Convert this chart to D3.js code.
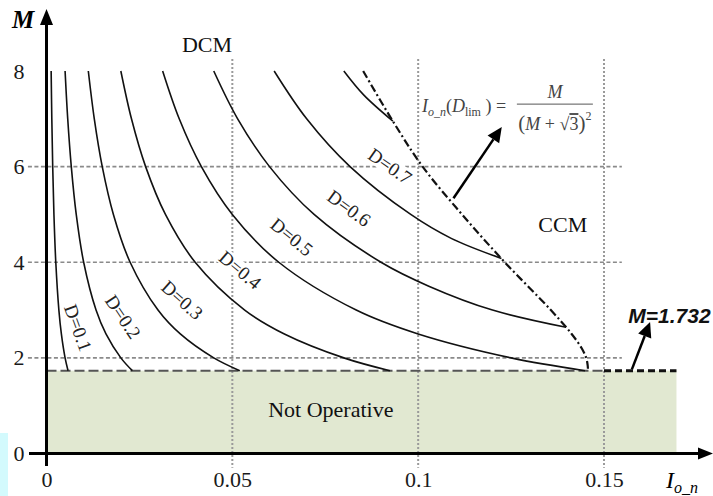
<!DOCTYPE html>
<html>
<head>
<meta charset="utf-8">
<script src="https://cdn.jsdelivr.net/npm/d3@7/dist/d3.min.js"></script>
<style>
  html, body { margin: 0; padding: 0; background: #fff; }
  svg { display: block; }
</style>
</head>
<body>
<script>
// Operating regions of the converter: output gain M versus normalised output current I_o_n.

// Axis ticks
const xTicks = [0, 0.05, 0.1, 0.15];
const yTicks = [0, 2, 4, 6, 8];
const gridX = [0.05, 0.1, 0.15];
const gridY = [2, 4, 6];

// Duty-cycle curves in DCM, points are [I_o_n, M]
const dutyValues = ["D=0.1", "D=0.2", "D=0.3", "D=0.4", "D=0.5", "D=0.6", "D=0.7"];
const curveD1 = [[0.00125, 8], [0.00143, 7], [0.00167, 6], [0.0020, 5], [0.0025, 4], [0.00333, 3], [0.0040, 2.5], [0.0050, 2], [0.0058, 1.732]];
const curveD2 = [[0.0050, 8], [0.00571, 7], [0.00667, 6], [0.0080, 5], [0.0100, 4], [0.01333, 3], [0.0160, 2.5], [0.0200, 2], [0.0231, 1.732]];
const curveD3 = [[0.01125, 8], [0.01286, 7], [0.0150, 6], [0.0180, 5], [0.0225, 4], [0.0300, 3], [0.0360, 2.5], [0.0450, 2], [0.0520, 1.732]];
const curveD4 = [[0.0200, 8], [0.02286, 7], [0.02667, 6], [0.0320, 5], [0.0400, 4], [0.05333, 3], [0.0640, 2.5], [0.0800, 2], [0.0924, 1.732]];
const curveD5 = [[0.03125, 8], [0.03571, 7], [0.04167, 6], [0.0500, 5], [0.0625, 4], [0.08333, 3], [0.1000, 2.5], [0.1250, 2], [0.1449, 1.732]];
const curveD6 = [[0.0450, 8], [0.05143, 7], [0.0600, 6], [0.0720, 5], [0.0900, 4], [0.10286, 3.5], [0.1200, 3], [0.1398, 2.64]];
const curveD7 = [[0.06125, 8], [0.0700, 7], [0.08167, 6], [0.0980, 5], [0.10889, 4.5], [0.1224, 4.08]];
const curveD8 = [[0.0800, 8], [0.08533, 7.5], [0.0932, 6.95]];

// DCM/CCM boundary I_o_n(D_lim) = M/(M+sqrt3)^2
const limitCurve = [[0.0852, 8.0], [0.0928, 7.0], [0.1012, 6.0], [0.1118, 5.0], [0.1233, 4.0], [0.1357, 3.0], [0.1413, 2.5], [0.1440, 2.2], [0.1452, 2.0], [0.1456, 1.85], [0.1457, 1.732]];

// Minimum gain and the non-operative band below it
const mMin = 1.732;
const bandEnd = 0.1695;

// Label anchors [I_o_n, M, angle]
const dutyLabelPos = [[0.0085, 2.63, 70], [0.0206, 2.86, 56], [0.0365, 3.21, 42], [0.0521, 3.84, 40], [0.0660, 4.53, 39], [0.0814, 5.13, 36], [0.0924, 6.01, 35]];

const W = 713, H = 496;
const x = d3.scaleLinear().domain([0, 0.15]).range([46.5, 604]);
const y = d3.scaleLinear().domain([0, 8]).range([453.5, 71]);

const serif = "'Liberation Serif', 'Times New Roman', serif";

const svg = d3.select("body").append("svg")
  .attr("width", W).attr("height", H)
  .attr("font-family", serif);

// small cyan strip at the lower-left edge
svg.append("rect").attr("x", 0).attr("y", 433).attr("width", 8).attr("height", H - 433)
  .attr("fill", "#d3fafd");

// Not-operative band
svg.append("rect")
  .attr("x", x(0)).attr("y", y(mMin))
  .attr("width", x(bandEnd) - x(0)).attr("height", y(0) - y(mMin))
  .attr("fill", "#e1e8d1");

// Grid
svg.append("g").selectAll("line").data(gridY).join("line")
  .attr("x1", x(-0.005)).attr("x2", x(0.1548))
  .attr("y1", d => y(d)).attr("y2", d => y(d))
  .attr("stroke", "#8a8a8a").attr("stroke-width", 1.6).attr("stroke-dasharray", "4,2.5");

svg.append("g").selectAll("line").data(gridX).join("line")
  .attr("x1", d => x(d)).attr("x2", d => x(d))
  .attr("y1", y(8.25)).attr("y2", y(-0.3))
  .attr("stroke", "#9a9a9a").attr("stroke-width", 2).attr("stroke-dasharray", "2,2");

// M = 1.732 boundary
svg.append("line")
  .attr("x1", x(0)).attr("x2", x(0.15)).attr("y1", y(mMin)).attr("y2", y(mMin))
  .attr("stroke", "#555").attr("stroke-width", 2).attr("stroke-dasharray", "10,4");
svg.append("line")
  .attr("x1", x(0.15)).attr("x2", x(bandEnd)).attr("y1", y(mMin)).attr("y2", y(mMin))
  .attr("stroke", "#111").attr("stroke-width", 3).attr("stroke-dasharray", "7,4");

// Duty-cycle labels on a white ground
dutyValues.forEach((txt, i) => {
  const [lx, ly, ang] = dutyLabelPos[i];
  const g = svg.append("g").attr("transform", `translate(${x(lx)},${y(ly)}) rotate(${ang})`);
  const t = g.append("text")
    .attr("text-anchor", "middle").attr("dominant-baseline", "central")
    .attr("font-size", 19).attr("fill", "#222").text(txt);
  const bb = t.node().getBBox();
  g.insert("rect", "text")
    .attr("x", bb.x - 1).attr("y", bb.y + 2).attr("width", bb.width + 2).attr("height", bb.height - 4)
    .attr("fill", "#fff");
});

// Curves
const line = d3.line().x(d => x(d[0])).y(d => y(d[1])).curve(d3.curveCatmullRom.alpha(0.5));
[curveD1, curveD2, curveD3, curveD4, curveD5, curveD6, curveD7, curveD8].forEach(c => {
  svg.append("path").attr("d", line(c))
    .attr("fill", "none").attr("stroke", "#111").attr("stroke-width", 1.6);
});

svg.append("path").attr("d", line(limitCurve))
  .attr("fill", "none").attr("stroke", "#111").attr("stroke-width", 2.2)
  .attr("stroke-dasharray", "8,3,2,3");

// Axes
const xAxis = d3.axisBottom(x).tickValues(xTicks).tickSize(0).tickPadding(18)
  .tickFormat(d => d === 0 ? "0" : String(d));
const gx = svg.append("g").attr("transform", `translate(0,${y(0)})`).call(xAxis);
gx.select(".domain").remove();
gx.selectAll("text").attr("font-family", serif).attr("font-size", 22).attr("fill", "#1a1a1a");

const yAxis = d3.axisLeft(y).tickValues(yTicks).tickSize(0).tickPadding(22);
const gy = svg.append("g").attr("transform", `translate(${x(0)},0)`).call(yAxis);
gy.select(".domain").remove();
gy.selectAll("text").attr("font-family", serif).attr("font-size", 22).attr("fill", "#1a1a1a");

// axis lines with arrow heads
svg.append("line").attr("x1", 29).attr("x2", W - 12).attr("y1", y(0)).attr("y2", y(0))
  .attr("stroke", "#000").attr("stroke-width", 3);
svg.append("path").attr("d", `M${W},${y(0)} L${W - 15},${y(0) - 6} L${W - 15},${y(0) + 6} Z`).attr("fill", "#000");
svg.append("line").attr("x1", x(0)).attr("x2", x(0)).attr("y1", 466).attr("y2", 22)
  .attr("stroke", "#000").attr("stroke-width", 3);
svg.append("path").attr("d", `M${x(0)},9 L${x(0) - 6.5},25 L${x(0) + 6.5},25 Z`).attr("fill", "#000");

// axis titles
svg.append("text").attr("x", 23).attr("y", 28).attr("text-anchor", "middle")
  .attr("font-size", 25).attr("font-style", "italic").attr("font-weight", "bold").text("M");
const xl = svg.append("text").attr("x", 666).attr("y", 488).attr("font-style", "italic").attr("font-size", 24);
xl.append("tspan").text("I");
xl.append("tspan").attr("dy", 5).attr("font-size", 16).text("o_n");

// Region labels
svg.append("text").attr("x", x(0.0432)).attr("y", y(8.40)).attr("text-anchor", "middle")
  .attr("font-size", 22).attr("fill", "#111").text("DCM");
svg.append("text").attr("x", x(0.1389)).attr("y", y(4.63)).attr("text-anchor", "middle")
  .attr("font-size", 22).attr("fill", "#111").text("CCM");
svg.append("text").attr("x", x(0.0765)).attr("y", y(0.76)).attr("text-anchor", "middle")
  .attr("font-size", 22).attr("fill", "#111").text("Not Operative");

// Arrow helper
function arrow(p0, p1, w) {
  const x0 = x(p0[0]), y0 = y(p0[1]), x1 = x(p1[0]), y1 = y(p1[1]);
  const dx = x1 - x0, dy = y1 - y0, L = Math.hypot(dx, dy);
  const ux = dx / L, uy = dy / L, hl = 15, hw = 7;
  const bx = x1 - ux * hl, by = y1 - uy * hl;
  svg.append("line").attr("x1", x0).attr("y1", y0).attr("x2", bx).attr("y2", by)
    .attr("stroke", "#000").attr("stroke-width", w);
  svg.append("path")
    .attr("d", `M${x1},${y1} L${bx - uy * hw},${by + ux * hw} L${bx + uy * hw},${by - ux * hw} Z`)
    .attr("fill", "#000");
}
arrow([0.1095, 5.34], [0.1225, 6.83], 2.5);
arrow([0.1575, 1.76], [0.1624, 2.75], 2.5);

// M = 1.732 callout
svg.append("text").attr("x", x(0.1676)).attr("y", y(2.73)).attr("text-anchor", "middle")
  .attr("font-size", 21).attr("font-style", "italic").attr("font-weight", "bold")
  .attr("font-family", "'Liberation Sans', Arial, sans-serif").attr("fill", "#111").text("M=1.732");

// Boundary formula
const fx = x(0.1010), fy = y(7.14);
const f = svg.append("text").attr("x", fx).attr("y", fy).attr("font-size", 18).attr("fill", "#444");
f.append("tspan").attr("font-style", "italic").text("I");
f.append("tspan").attr("dy", 4).attr("font-size", 12).attr("font-style", "italic").text("o_n");
f.append("tspan").attr("dy", -4).text("(");
f.append("tspan").attr("font-style", "italic").text("D");
f.append("tspan").attr("dy", 4).attr("font-size", 12).text("lim");
f.append("tspan").attr("dy", -4).text(" ) =");
const fc = fx + 133;
svg.append("text").attr("x", fc).attr("y", fy - 14).attr("text-anchor", "middle")
  .attr("font-size", 18).attr("font-style", "italic").attr("fill", "#444").text("M");
svg.append("line").attr("x1", fx + 95).attr("x2", fx + 171).attr("y1", fy - 8).attr("y2", fy - 8)
  .attr("stroke", "#555").attr("stroke-width", 1);
const den = svg.append("text").attr("x", fc).attr("y", fy + 18).attr("text-anchor", "middle")
  .attr("font-size", 18).attr("fill", "#444");
den.append("tspan").attr("font-size", 21).text("(");
den.append("tspan").attr("font-style", "italic").text("M");
den.append("tspan").text(" + \u221A");
den.append("tspan").attr("text-decoration", "overline").text("3");
den.append("tspan").attr("font-size", 21).text(")");
den.append("tspan").attr("dy", -10).attr("font-size", 12).text("2");
</script>
</body>
</html>
